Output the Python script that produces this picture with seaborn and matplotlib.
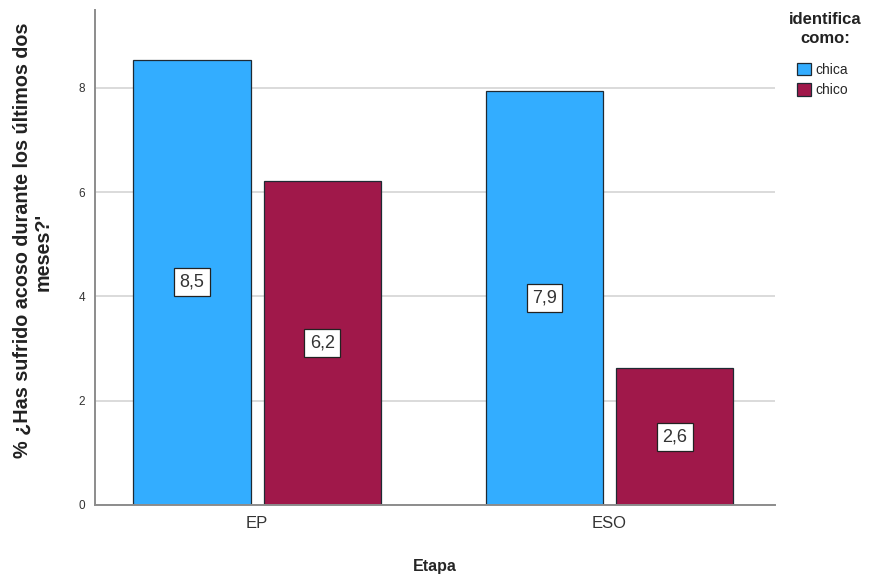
import pandas as pd
import numpy as np
import seaborn as sns
import matplotlib.pyplot as plt

# datos
etapas = ['EP', 'EP', 'ESO', 'ESO']
sexo = ['chica', 'chico', 'chica', 'chico']
porcentaje = [8.54, 6.21, 7.94, 2.62]
colores = ['#33adff', '#a0184a']

df = pd.DataFrame({'Etapa': etapas, 'sexo': sexo, 'pct': porcentaje})

sns.set_style('white')
plt.rcParams['font.family'] = ['Liberation Sans', 'DejaVu Sans']

fig = plt.figure(figsize=(8.72, 5.77), dpi=100)
ax = fig.add_axes([0.109, 0.125, 0.78, 0.858])

sns.barplot(df, x='Etapa', y='pct', hue='sexo', palette=colores, saturation=1,
            width=0.74, gap=0.1, edgecolor='#1f2a33', linewidth=0.9, ax=ax)

# etiquetas dentro de las barras
for cont in ax.containers:
    labels = [f'{v:.1f}'.replace('.', ',') for v in cont.datavalues]
    ax.bar_label(cont, labels=labels, label_type='center', fontsize=13, color='#333333',
                 bbox=dict(boxstyle='square,pad=0.3', fc='white', ec='#222222', lw=0.9))

ax.set_ylim(0, 9.5)
ax.set_xlim(-0.46, 1.47)
ax.set_yticks([0, 2, 4, 6, 8])
ax.yaxis.grid(True, color='#d4d4d4', lw=1.2)
ax.set_axisbelow(True)
for s in ['top', 'right']:
    ax.spines[s].set_visible(False)
for s in ['left', 'bottom']:
    ax.spines[s].set_color('#8c8c8c')
    ax.spines[s].set_linewidth(1.4)
    ax.spines[s].set_zorder(5)
ax.tick_params(axis='y', length=0, pad=7, labelsize=8.5, labelcolor='#333333')
ax.tick_params(axis='x', length=0, pad=8, labelsize=12, labelcolor='#333333')

ax.set_xlabel('Etapa', fontsize=11.5, fontweight='bold', labelpad=20)
ax.set_ylabel('')
# titulo del eje y en dos lineas
fig.text(22 / 872, 1 - 458 / 577, '% ¿Has sufrido acoso durante los últimos dos', rotation=90,
         ha='center', va='bottom', fontsize=14.2, fontweight='bold', color='#222222')
fig.text(43 / 872, 1 - 252 / 577, "meses?'", rotation=90,
         ha='center', va='center', fontsize=14.2, fontweight='bold', color='#222222')

# leyenda: titulo aparte para separarlo de los elementos
fig.text(825 / 872, 1 - 29 / 577, 'identifica\ncomo:', ha='center', va='center',
         multialignment='center', fontsize=12, fontweight='bold', color='#222222',
         linespacing=1.3)
leg = ax.legend(loc='upper left', bbox_to_anchor=(797 / 872, 1 - 63 / 577),
                bbox_transform=fig.transFigure, frameon=False, fontsize=10,
                handlelength=1.0, handleheight=1.0, handletextpad=0.3, labelspacing=0.45,
                borderaxespad=0, borderpad=0)

plt.savefig('out.png', dpi=100)
